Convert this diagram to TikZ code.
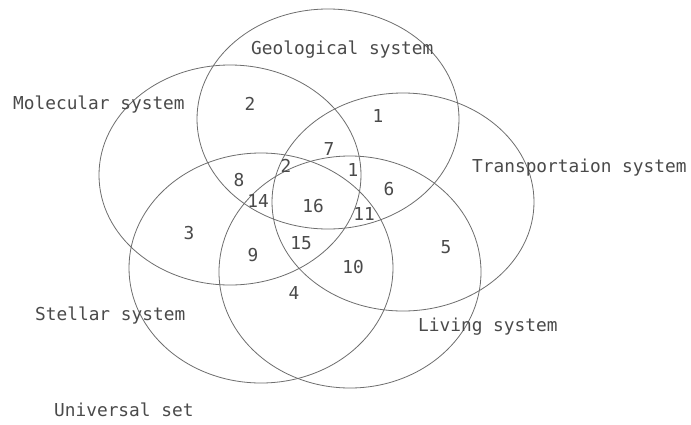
\documentclass[tikz,border=0pt]{standalone}
\usepackage{fontspec}
\setmonofont{DejaVu Sans Mono}
\usetikzlibrary{positioning}
\definecolor{vnLine}{HTML}{6E6E6E}
\definecolor{vnInk} {HTML}{4A4A4A}

\begin{document}
\begin{tikzpicture}[x=1pt,y=-1pt,
      font=\fontsize{17.8}{20}\selectfont\ttfamily,
      set/.style={draw=vnLine,line width=0.8pt},
      lbl/.style={text=vnInk,inner sep=0pt,anchor=west},
      num/.style={text=vnInk,inner sep=0pt}]
  \useasboundingbox[fill=white] (0,0) rectangle (691,424);

  % the five systems
  \draw[set] (328,119) ellipse [x radius=131pt,y radius=110pt]; % geological
  \draw[set] (230,175) ellipse [x radius=131pt,y radius=110pt]; % molecular
  \draw[set] (403,202) ellipse [x radius=131pt,y radius=109pt]; % transportation
  \draw[set] (261,268) ellipse [x radius=132pt,y radius=115pt]; % stellar
  \draw[set] (350,272) ellipse [x radius=131pt,y radius=116pt]; % living

  \node[lbl] (geo)   at (251,50)  {Geological system};
  \node[lbl] (mol)   at (13,105)  {Molecular system};
  \node[lbl] (trans) at (472,168) {Transportaion system};
  \node[lbl] (stel)  at (35,316)  {Stellar system};
  \node[lbl] (liv)   at (418,327) {Living system};
  \node[lbl] (uni)   at (54,410)  {Universal set};

  % region counts
  \foreach \t/\x/\y [count=\k] in {2/250/104,1/378/116,7/329/149,2/286/166,
      1/353/170,8/239/180,6/389/189,14/258/201,16/313/206,11/364/214,
      3/189/233,15/301/243,9/253/255,10/353/267,5/446/247,4/294/293}
    \node[num] (n\k) at (\x,\y) {\t};
\end{tikzpicture}
\end{document}
